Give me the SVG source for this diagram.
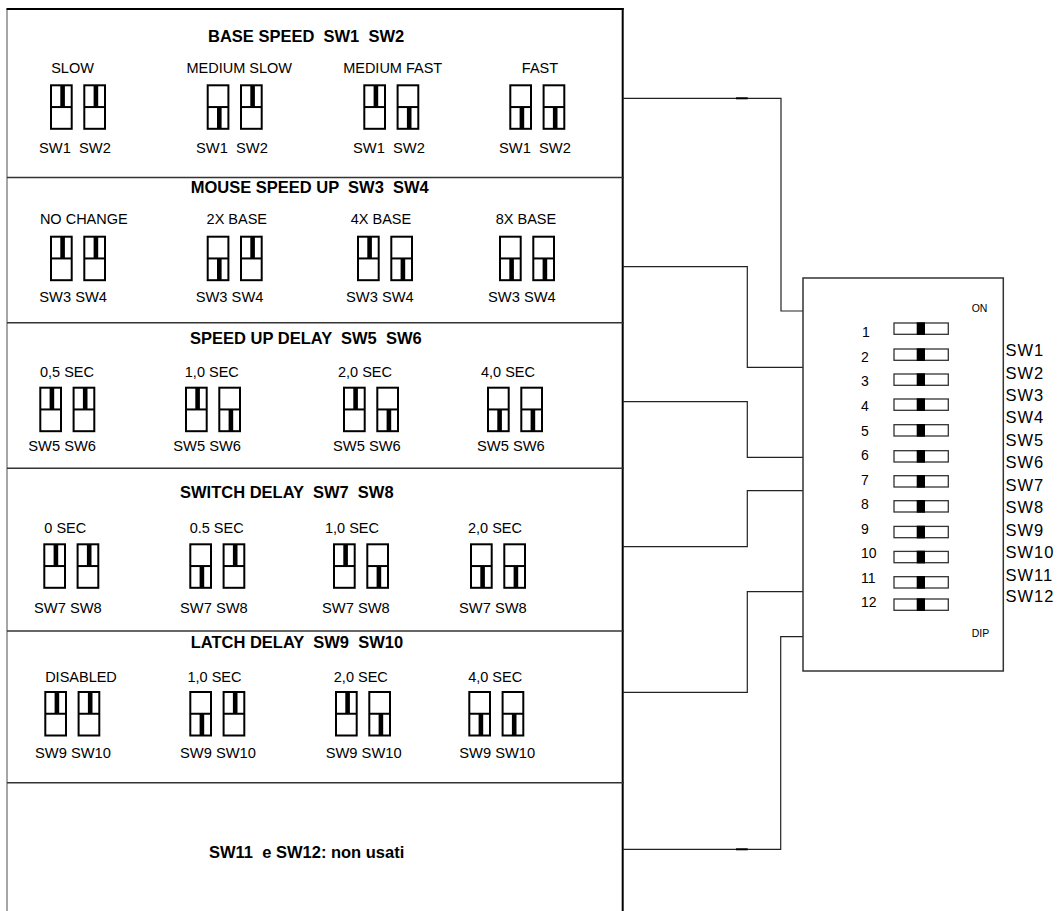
<svg xmlns="http://www.w3.org/2000/svg" xmlns:xlink="http://www.w3.org/1999/xlink" width="1059" height="911" viewBox="0 0 1059 911">
<style>
text{font-family:"Liberation Sans",Arial,sans-serif;fill:#000;white-space:pre}
.hd{font-size:16.5px;font-weight:bold}
.lb{font-size:14.5px;text-anchor:middle}
.sw{font-size:14.7px}
.num{font-size:14px}
.tiny{font-size:10.5px}
.side{font-size:16.5px;letter-spacing:1px}
.div{stroke:#333;stroke-width:1.5;fill:none}
.con{stroke:#222;stroke-width:1.2;fill:none}
.ib{fill:#fff;stroke:#000;stroke-width:2}
.dsw{fill:#fff;stroke:#333;stroke-width:1.3}
</style>
<defs>
<g id="on"><rect class="ib" x="1" y="1" width="20.7" height="43.5"/><line x1="1" y1="22.75" x2="21.7" y2="22.75" stroke="#000" stroke-width="2"/><rect x="10.3" y="1" width="4.6" height="21.75" fill="#000"/></g>
<g id="off"><rect class="ib" x="1" y="1" width="20.7" height="43.5"/><line x1="1" y1="22.75" x2="21.7" y2="22.75" stroke="#000" stroke-width="2"/><rect x="10.3" y="22.75" width="4.6" height="21.75" fill="#000"/></g>
<g id="dsw"><rect class="dsw" x="0.7" y="0.7" width="54.3" height="11.3"/><rect x="23.4" y="0" width="8.3" height="12.7" fill="#000"/></g>
</defs>
<rect width="1059" height="911" fill="#fff"/>

<g id="panel">
<line x1="7" y1="9" x2="7" y2="911" stroke="#888" stroke-width="1.5"/>
<line x1="6.5" y1="9" x2="623.7" y2="9" stroke="#000" stroke-width="2"/>
<line x1="622.7" y1="8" x2="622.7" y2="911" stroke="#000" stroke-width="2"/>
<line class="div" x1="7" y1="177.5" x2="624" y2="177.5"/>
<line class="div" x1="7" y1="322.7" x2="624" y2="322.7"/>
<line class="div" x1="7" y1="468.3" x2="624" y2="468.3"/>
<line class="div" x1="7" y1="631" x2="624" y2="631"/>
<line class="div" x1="7" y1="782.7" x2="624" y2="782.7"/>
</g>

<g id="sec1">
<text class="hd" x="208" y="42">BASE SPEED  SW1  SW2</text>
<g id="s1g1"><text class="lb" x="72.5" y="73">SLOW</text><use xlink:href="#on" x="50" y="84.3"/><use xlink:href="#on" x="83.3" y="84.3"/><text class="sw" x="39" y="152.7">SW1  SW2</text></g>
<g id="s1g2"><text class="lb" x="239.2" y="73">MEDIUM SLOW</text><use xlink:href="#off" x="206.7" y="84.3"/><use xlink:href="#on" x="240" y="84.3"/><text class="sw" x="196" y="152.7">SW1  SW2</text></g>
<g id="s1g3"><text class="lb" x="392.7" y="73">MEDIUM FAST</text><use xlink:href="#on" x="363.3" y="84.3"/><use xlink:href="#off" x="396.6" y="84.3"/><text class="sw" x="353" y="152.7">SW1  SW2</text></g>
<g id="s1g4"><text class="lb" x="540" y="73">FAST</text><use xlink:href="#off" x="509.3" y="84.3"/><use xlink:href="#off" x="542.6" y="84.3"/><text class="sw" x="499" y="152.7">SW1  SW2</text></g>
</g>

<g id="sec2">
<text class="hd" x="190.7" y="193.3">MOUSE SPEED UP  SW3  SW4</text>
<g id="s2g1"><text class="lb" x="83.8" y="224.3">NO CHANGE</text><use xlink:href="#on" x="50" y="235.7"/><use xlink:href="#on" x="83.3" y="235.7"/><text class="sw" x="39.3" y="301.7">SW3 SW4</text></g>
<g id="s2g2"><text class="lb" x="236.8" y="224.3">2X BASE</text><use xlink:href="#off" x="206.7" y="235.7"/><use xlink:href="#on" x="240" y="235.7"/><text class="sw" x="195.7" y="301.7">SW3 SW4</text></g>
<g id="s2g3"><text class="lb" x="381" y="224.3">4X BASE</text><use xlink:href="#on" x="357" y="235.7"/><use xlink:href="#off" x="390.3" y="235.7"/><text class="sw" x="346" y="301.7">SW3 SW4</text></g>
<g id="s2g4"><text class="lb" x="526" y="224.3">8X BASE</text><use xlink:href="#off" x="499" y="235.7"/><use xlink:href="#off" x="532.3" y="235.7"/><text class="sw" x="488" y="301.7">SW3 SW4</text></g>
</g>

<g id="sec3">
<text class="hd" x="190" y="344">SPEED UP DELAY  SW5  SW6</text>
<g id="s3g1"><text class="lb" x="67" y="377.3">0,5 SEC</text><use xlink:href="#on" x="39.3" y="386.7"/><use xlink:href="#on" x="72.6" y="386.7"/><text class="sw" x="28.3" y="450.7">SW5 SW6</text></g>
<g id="s3g2"><text class="lb" x="211.8" y="377.3">1,0 SEC</text><use xlink:href="#on" x="185" y="386.7"/><use xlink:href="#off" x="218.3" y="386.7"/><text class="sw" x="173.3" y="450.7">SW5 SW6</text></g>
<g id="s3g3"><text class="lb" x="365" y="377.3">2,0 SEC</text><use xlink:href="#on" x="343" y="386.7"/><use xlink:href="#off" x="376.3" y="386.7"/><text class="sw" x="333" y="450.7">SW5 SW6</text></g>
<g id="s3g4"><text class="lb" x="508" y="377.3">4,0 SEC</text><use xlink:href="#off" x="487" y="386.7"/><use xlink:href="#off" x="520.3" y="386.7"/><text class="sw" x="477" y="450.7">SW5 SW6</text></g>
</g>

<g id="sec4">
<text class="hd" x="180" y="498.3">SWITCH DELAY  SW7  SW8</text>
<g id="s4g1"><text class="lb" x="65.3" y="533.3">0 SEC</text><use xlink:href="#on" x="43.3" y="543.3"/><use xlink:href="#on" x="76.6" y="543.3"/><text class="sw" x="34" y="612.7">SW7 SW8</text></g>
<g id="s4g2"><text class="lb" x="216.7" y="533.3">0.5 SEC</text><use xlink:href="#off" x="189.3" y="543.3"/><use xlink:href="#on" x="222.6" y="543.3"/><text class="sw" x="180" y="612.7">SW7 SW8</text></g>
<g id="s4g3"><text class="lb" x="352" y="533.3">1,0 SEC</text><use xlink:href="#on" x="333" y="543.3"/><use xlink:href="#off" x="366.3" y="543.3"/><text class="sw" x="322" y="612.7">SW7 SW8</text></g>
<g id="s4g4"><text class="lb" x="495" y="533.3">2,0 SEC</text><use xlink:href="#off" x="470" y="543.3"/><use xlink:href="#off" x="503.3" y="543.3"/><text class="sw" x="459" y="612.7">SW7 SW8</text></g>
</g>

<g id="sec5">
<text class="hd" x="190.7" y="647.7">LATCH DELAY  SW9  SW10</text>
<g id="s5g1"><text class="lb" x="81" y="681.7">DISABLED</text><use xlink:href="#on" x="44.3" y="691"/><use xlink:href="#on" x="77.6" y="691"/><text class="sw" x="35" y="758.3">SW9 SW10</text></g>
<g id="s5g2"><text class="lb" x="214.5" y="681.7">1,0 SEC</text><use xlink:href="#off" x="189.3" y="691"/><use xlink:href="#on" x="222.6" y="691"/><text class="sw" x="180" y="758.3">SW9 SW10</text></g>
<g id="s5g3"><text class="lb" x="360.8" y="681.7">2,0 SEC</text><use xlink:href="#on" x="335" y="691"/><use xlink:href="#off" x="368.3" y="691"/><text class="sw" x="325.7" y="758.3">SW9 SW10</text></g>
<g id="s5g4"><text class="lb" x="495.2" y="681.7">4,0 SEC</text><use xlink:href="#off" x="468.3" y="691"/><use xlink:href="#off" x="501.6" y="691"/><text class="sw" x="459.3" y="758.3">SW9 SW10</text></g>
</g>

<g id="sec6">
<text class="hd" x="209" y="858.3">SW11  e SW12: non usati</text>
</g>

<g id="connectors">
<path class="con" d="M623 98.3H781V311H803"/>
<path class="con" d="M623 266.7H747.3V367.3H803"/>
<path class="con" d="M623 401.7H747.3V457.3H803"/>
<path class="con" d="M623 546.7H747.3V490.7H803"/>
<path class="con" d="M623 692.3H747.3V591.7H803"/>
<path class="con" d="M623 849.3H780.7V636.7H803"/>
<line x1="736" y1="98.3" x2="747.7" y2="98.3" stroke="#000" stroke-width="2"/>
<line x1="736" y1="849.3" x2="747.7" y2="849.3" stroke="#000" stroke-width="2"/>
</g>

<g id="dip">
<rect x="803" y="278" width="200.3" height="393" fill="#fff" stroke="#333" stroke-width="1.5"/>
<text class="tiny" x="971.7" y="311.7">ON</text>
<text class="tiny" x="971.7" y="636.7">DIP</text>
<text class="num" x="862" y="337.3">1</text>
<text class="num" x="861" y="361.8">2</text>
<text class="num" x="861" y="386.4">3</text>
<text class="num" x="861" y="411">4</text>
<text class="num" x="861" y="435.5">5</text>
<text class="num" x="861" y="460">6</text>
<text class="num" x="861" y="484.6">7</text>
<text class="num" x="861" y="509.2">8</text>
<text class="num" x="861" y="533.7">9</text>
<text class="num" x="861" y="558.3">10</text>
<text class="num" x="861" y="582.8">11</text>
<text class="num" x="861" y="607.3">12</text>
<use xlink:href="#dsw" x="893.3" y="322.3"/>
<use xlink:href="#dsw" x="893.3" y="348.3"/>
<use xlink:href="#dsw" x="893.3" y="373.3"/>
<use xlink:href="#dsw" x="893.3" y="398.3"/>
<use xlink:href="#dsw" x="893.3" y="424"/>
<use xlink:href="#dsw" x="893.3" y="450"/>
<use xlink:href="#dsw" x="893.3" y="475"/>
<use xlink:href="#dsw" x="893.3" y="500"/>
<use xlink:href="#dsw" x="893.3" y="525.7"/>
<use xlink:href="#dsw" x="893.3" y="550.7"/>
<use xlink:href="#dsw" x="893.3" y="576"/>
<use xlink:href="#dsw" x="893.3" y="598.3"/>
<text class="side" x="1005.5" y="356">SW1</text>
<text class="side" x="1005.5" y="378.5">SW2</text>
<text class="side" x="1005.5" y="400.8">SW3</text>
<text class="side" x="1005.5" y="423.3">SW4</text>
<text class="side" x="1005.5" y="446">SW5</text>
<text class="side" x="1005.5" y="468.3">SW6</text>
<text class="side" x="1005.5" y="491">SW7</text>
<text class="side" x="1005.5" y="513.3">SW8</text>
<text class="side" x="1005.5" y="536">SW9</text>
<text class="side" x="1005.5" y="558.3">SW10</text>
<text class="side" x="1005.5" y="580.7">SW11</text>
<text class="side" x="1005.5" y="601.7">SW12</text>
</g>
</svg>
